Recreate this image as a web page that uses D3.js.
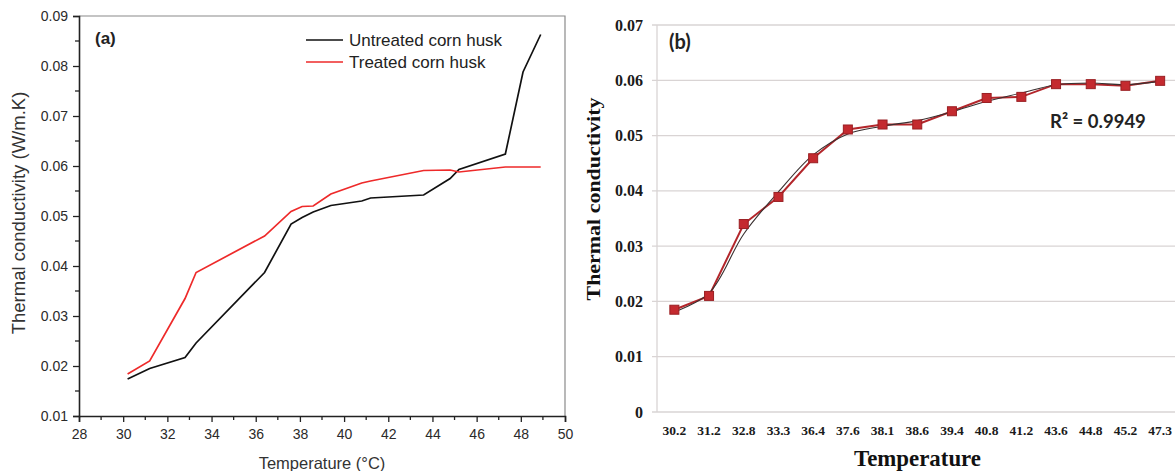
<!DOCTYPE html>
<html>
<head>
<meta charset="utf-8">
<script src="https://cdn.jsdelivr.net/npm/d3@7"></script>
<style>
  html, body { margin: 0; padding: 0; background: #fff; }
  svg { display: block; }
</style>
</head>
<body>
<svg id="chart" width="1175" height="471"></svg>
<script>
// ---- Panel (a): thermal conductivity vs temperature, untreated vs treated husk
const tempsUntreated = [30.2, 31.2, 32.8, 33.3, 36.4, 37.6, 38.1, 38.6, 39.4, 40.8, 41.2, 43.6, 44.8, 45.2, 47.3, 48.1, 48.9];
const kUntreated     = [0.0174, 0.0195, 0.0217, 0.0246, 0.0387, 0.0484, 0.0497, 0.0508, 0.0521, 0.0530, 0.0536, 0.0542, 0.0575, 0.0593, 0.0624, 0.0788, 0.0863];
const tempsTreated   = [30.2, 31.2, 32.8, 33.3, 36.4, 37.6, 38.1, 38.6, 39.4, 40.8, 41.2, 43.6, 44.8, 45.2, 47.3, 48.9];
const kTreated       = [0.0184, 0.0210, 0.0335, 0.0387, 0.0460, 0.0509, 0.0519, 0.0520, 0.0544, 0.0566, 0.0570, 0.0591, 0.0592, 0.0588, 0.0598, 0.0598];
const seriesNamesA   = ["Untreated corn husk", "Treated corn husk"];
const xTicksA = [28, 30, 32, 34, 36, 38, 40, 42, 44, 46, 48, 50];
const yTicksA = [0.01, 0.02, 0.03, 0.04, 0.05, 0.06, 0.07, 0.08, 0.09];

// ---- Panel (b): treated husk with polynomial trend
const categoriesB = ["30.2", "31.2", "32.8", "33.3", "36.4", "37.6", "38.1", "38.6", "39.4", "40.8", "41.2", "43.6", "44.8", "45.2", "47.3"];
const valuesB     = [0.0185, 0.0210, 0.0340, 0.0389, 0.0459, 0.0511, 0.0520, 0.0520, 0.0544, 0.0568, 0.0570, 0.0593, 0.0593, 0.0590, 0.0599];
const trendB      = [0.0181, 0.0215, 0.0322, 0.0398, 0.0465, 0.0503, 0.0517, 0.0527, 0.0543, 0.0562, 0.0577, 0.0592, 0.0595, 0.0592, 0.0598];
const yTicksB     = [0, 0.01, 0.02, 0.03, 0.04, 0.05, 0.06, 0.07];
const r2Label     = "R² = 0.9949";

const svg = d3.select("#chart");

/* ===================== Panel (a) ===================== */
const A = { left: 79, right: 565, top: 16, bottom: 416 };
const xA = d3.scaleLinear().domain([28, 50]).range([A.left, A.right]);
const yA = d3.scaleLinear().domain([0.01, 0.09]).range([A.bottom, A.top]);
const gA = svg.append("g").attr("font-family", "'Liberation Sans', Arial, sans-serif");

// frame (top/right in grey)
gA.append("path")
  .attr("d", `M${A.left},${A.top}H${A.right}V${A.bottom}`)
  .attr("fill", "none").attr("stroke", "#8a8a8a").attr("stroke-width", 1.2);

// minor ticks
const xMinorA = d3.range(29, 50, 2);
const yMinorA = d3.range(0.015, 0.09, 0.01);
gA.append("g").selectAll("line").data(xMinorA).join("line")
  .attr("x1", d => xA(d)).attr("x2", d => xA(d))
  .attr("y1", A.bottom).attr("y2", A.bottom + 4)
  .attr("stroke", "#222").attr("stroke-width", 1.3);
gA.append("g").selectAll("line").data(yMinorA).join("line")
  .attr("y1", d => yA(d)).attr("y2", d => yA(d))
  .attr("x1", A.left).attr("x2", A.left - 4)
  .attr("stroke", "#222").attr("stroke-width", 1.3);

const axisXA = gA.append("g").attr("transform", `translate(0,${A.bottom})`)
  .call(d3.axisBottom(xA).tickValues(xTicksA).tickFormat(d3.format("d")).tickSize(6).tickPadding(4));
const axisYA = gA.append("g").attr("transform", `translate(${A.left},0)`)
  .call(d3.axisLeft(yA).tickValues(yTicksA).tickFormat(d3.format(".2f")).tickSize(6).tickPadding(5));
[axisXA, axisYA].forEach(ax => {
  ax.select(".domain").attr("stroke", "#222").attr("stroke-width", 1.6);
  ax.selectAll(".tick line").attr("stroke", "#222").attr("stroke-width", 1.3);
  ax.selectAll(".tick text").attr("fill", "#2a2a2a").attr("font-size", 14).attr("font-family", "'Liberation Sans', Arial, sans-serif");
});
axisXA.selectAll(".tick text").attr("dy", "0.95em");

// series lines
const lineA = d3.line().x(d => xA(d[0])).y(d => yA(d[1]));
gA.append("path").datum(d3.zip(tempsUntreated, kUntreated))
  .attr("d", lineA).attr("fill", "none").attr("stroke", "#111").attr("stroke-width", 1.7);
gA.append("path").datum(d3.zip(tempsTreated, kTreated))
  .attr("d", lineA).attr("fill", "none").attr("stroke", "#ee2a2a").attr("stroke-width", 1.7);

// legend
const legendColors = ["#111", "#ee2a2a"];
const leg = gA.append("g");
seriesNamesA.forEach((name, i) => {
  const y = 40 + i * 22;
  leg.append("line").attr("x1", 306).attr("x2", 343).attr("y1", y).attr("y2", y)
    .attr("stroke", legendColors[i]).attr("stroke-width", 1.7);
  leg.append("text").attr("x", 349).attr("y", y + 6).attr("font-size", 17).attr("fill", "#222").text(name);
});

// panel label and axis titles
gA.append("text").attr("x", 95).attr("y", 44).attr("font-size", 17).attr("font-weight", "bold").attr("fill", "#222").text("(a)");
gA.append("text").attr("x", 322).attr("y", 469).attr("text-anchor", "middle").attr("font-size", 16.5).attr("fill", "#333")
  .text("Temperature (°C)");
gA.append("text").attr("transform", "translate(25,213) rotate(-90)").attr("text-anchor", "middle")
  .attr("font-size", 18.5).attr("fill", "#333").text("Thermal conductivity (W/m.K)");

/* ===================== Panel (b) ===================== */
const B = { left: 657, right: 1177.5, top: 25, bottom: 412 };
const xB = d3.scaleBand().domain(categoriesB).range([B.left, B.right]);
const yB = d3.scaleLinear().domain([0, 0.07]).range([B.bottom, B.top]);
const cx = d => xB(d) + xB.bandwidth() / 2;
const gB = svg.append("g").attr("font-family", "'Liberation Serif', 'Times New Roman', serif");

// gridlines with small outside ticks
gB.append("g").selectAll("line").data(yTicksB).join("line")
  .attr("x1", B.left - 5).attr("x2", 1175)
  .attr("y1", d => yB(d)).attr("y2", d => yB(d))
  .attr("stroke", "#d9d4d4").attr("stroke-width", 1.3);
gB.append("line").attr("x1", B.left).attr("x2", B.left).attr("y1", B.top).attr("y2", B.bottom)
  .attr("stroke", "#d9d4d4").attr("stroke-width", 1.3);

// y tick labels
gB.append("g").selectAll("text").data(yTicksB).join("text")
  .attr("x", 643).attr("y", d => yB(d)).attr("dy", "0.35em").attr("text-anchor", "end")
  .attr("font-size", 16).attr("font-weight", "bold").attr("fill", "#1a1a1a")
  .text(d => d === 0 ? "0" : d3.format(".2f")(d));

// x tick labels
gB.append("g").selectAll("text").data(categoriesB).join("text")
  .attr("x", d => cx(d)).attr("y", 435).attr("text-anchor", "middle")
  .attr("font-size", 13.5).attr("font-weight", "bold").attr("fill", "#1a1a1a")
  .text(d => d);

// data line
const pts = categoriesB.map((c, i) => [cx(c), yB(valuesB[i])]);
gB.append("path").datum(pts).attr("d", d3.line())
  .attr("fill", "none").attr("stroke", "#b3262b").attr("stroke-width", 2);

// polynomial trend line
const trendPts = categoriesB.map((c, i) => [cx(c), yB(trendB[i])]);
gB.append("path").datum(trendPts).attr("d", d3.line().curve(d3.curveCatmullRom.alpha(0.5)))
  .attr("fill", "none").attr("stroke", "#3a3030").attr("stroke-width", 1.1);

// square markers
const ms = 9;
gB.append("g").selectAll("rect").data(pts).join("rect")
  .attr("x", d => d[0] - ms / 2).attr("y", d => d[1] - ms / 2)
  .attr("width", ms).attr("height", ms)
  .attr("fill", "#c42a2f").attr("stroke", "#9a1f23").attr("stroke-width", 1);

// R² annotation
gB.append("text").attr("x", 1050).attr("y", 128)
  .attr("font-family", "Lato, 'Open Sans', sans-serif").attr("font-weight", "bold")
  .attr("font-size", 18.5).attr("fill", "#222").text(r2Label);

// panel label
gB.append("text").attr("x", 669).attr("y", 49)
  .attr("font-family", "Lato, 'Open Sans', sans-serif").attr("font-weight", "bold")
  .attr("font-size", 20).attr("fill", "#222").text("(b)");

// axis titles
gB.append("text").attr("transform", "translate(600,199) rotate(-90)").attr("text-anchor", "middle")
  .attr("font-size", 18.5).attr("font-weight", "bold").attr("fill", "#111")
  .attr("textLength", 203).attr("lengthAdjust", "spacingAndGlyphs")
  .text("Thermal  conductivity");
gB.append("text").attr("x", 917.5).attr("y", 466).attr("text-anchor", "middle")
  .attr("font-size", 23).attr("font-weight", "bold").attr("fill", "#111")
  .attr("textLength", 127).attr("lengthAdjust", "spacingAndGlyphs")
  .text("Temperature");
</script>
</body>
</html>
